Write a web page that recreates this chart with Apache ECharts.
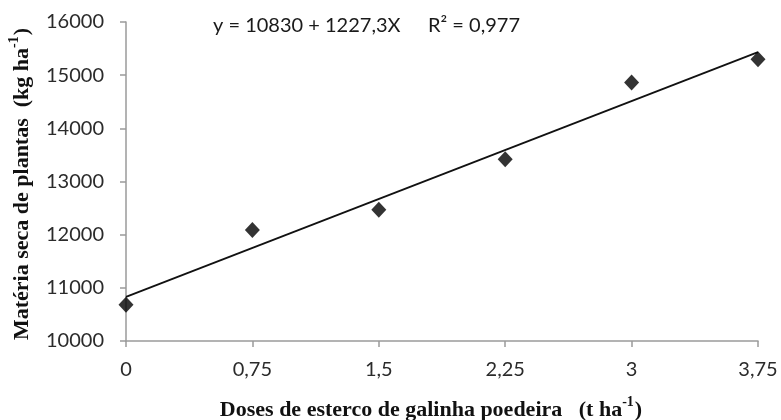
<!DOCTYPE html>
<html>
<head>
<meta charset="utf-8">
<script src="https://cdn.jsdelivr.net/npm/echarts@6/dist/echarts.min.js"></script>
<style>
html,body{margin:0;padding:0;background:#fff;}
#chart{width:781px;height:420px;}
</style>
</head>
<body>
<div id="chart"></div>
<script>
// Data
const doses = [0, 0.75, 1.5, 2.25, 3, 3.75];
const materiaSeca = [10680, 12090, 12470, 13420, 14860, 15300];
const xTickLabels = ['0', '0,75', '1,5', '2,25', '3', '3,75'];
const yTicks = [10000, 11000, 12000, 13000, 14000, 15000, 16000];
// Fitted line as printed: y = 10830 + 1227,3X (endpoints at the axis range)
const trendX = [0, 3.75];
const trendY = [10830, 15432.4];
const equationText = 'y = 10830 + 1227,3X';
const r2Text = 'R² = 0,977';
const yTitle = 'Matéria seca de plantas  (kg ha';
const xTitle = 'Doses de esterco de galinha poedeira   (t ha';

const chart = echarts.init(document.getElementById('chart'), null, {renderer: 'canvas'});
const axisGray = '#9a9a9a';
const labelFont = 'Lato, "Open Sans", sans-serif';
const serifFont = '"Liberation Serif", "Times New Roman", serif';

function titleRich(main) {
  return {
    text: '{m|' + main + '}{s|-1}{m|)}',
    align: 'center', verticalAlign: 'middle',
    rich: {
      m: {fontSize: 22, fontWeight: 'bold', fontFamily: serifFont, fill: '#111', verticalAlign: 'bottom', lineHeight: 26},
      s: {fontSize: 14, fontWeight: 'bold', fontFamily: serifFont, fill: '#111', verticalAlign: 'top', lineHeight: 26, padding: [0, 1, 10, 0]}
    }
  };
}

const option = {
  animation: false,
  backgroundColor: '#ffffff',
  grid: {left: 126, right: 23, top: 22, bottom: 79, containLabel: false},
  xAxis: {
    type: 'value', min: 0, max: 3.75, interval: 0.75,
    axisLine: {show: true, onZero: false, lineStyle: {color: axisGray, width: 1.5}},
    axisTick: {show: true, length: 6, lineStyle: {color: axisGray, width: 1.5}},
    splitLine: {show: false},
    axisLabel: {
      margin: 19, color: '#2b2b2b', fontSize: 20, fontFamily: labelFont,
      formatter: function (v) { const i = Math.round(v / 0.75); return xTickLabels[i] !== undefined ? xTickLabels[i] : ''; }
    }
  },
  yAxis: {
    type: 'value', min: yTicks[0], max: yTicks[yTicks.length - 1], interval: 1000,
    axisLine: {show: true, lineStyle: {color: axisGray, width: 1.5}},
    axisTick: {show: true, length: 6, lineStyle: {color: axisGray, width: 1.5}},
    splitLine: {show: false},
    axisLabel: {margin: 22, color: '#2b2b2b', fontSize: 20, fontFamily: labelFont,
      formatter: function (v) { return String(v); }}
  },
  series: [
    {
      type: 'line',
      data: trendX.map((x, i) => [x, trendY[i]]),
      symbol: 'none',
      lineStyle: {color: '#111', width: 1.8},
      z: 2
    },
    {
      type: 'scatter',
      data: doses.map((d, i) => [d, materiaSeca[i]]),
      symbol: 'diamond',
      symbolSize: [15, 16],
      itemStyle: {color: '#000'},
      z: 3
    }
  ],
  graphic: [
    {
      type: 'text', left: 213, top: 16,
      style: {text: equationText, fontSize: 20, fontFamily: labelFont, fill: '#1a1a1a'}
    },
    {
      type: 'text', left: 428, top: 16,
      style: {text: r2Text, fontSize: 20, fontFamily: labelFont, fill: '#1a1a1a'}
    },
    {
      type: 'text',
      x: 20, y: 184, rotation: Math.PI / 2,
      style: titleRich(yTitle)
    },
    {
      type: 'text',
      x: 431, y: 408,
      style: titleRich(xTitle)
    }
  ]
};
chart.setOption(option);
</script>
</body>
</html>
